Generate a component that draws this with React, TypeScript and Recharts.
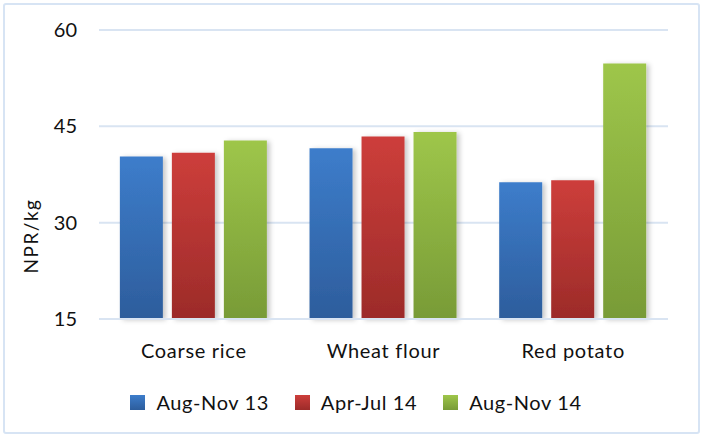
import React from "react";
import {
  BarChart,
  Bar,
  XAxis,
  YAxis,
  CartesianGrid,
} from "recharts";

const categories = ["Coarse rice", "Wheat flour", "Red potato"];
const augNov13 = [40.3, 41.6, 36.3];
const aprJul14 = [40.9, 43.4, 36.6];
const augNov14 = [42.8, 44.1, 54.8];
const yTicks = [15, 30, 45, 60];

const series = [
  { key: "augNov13", name: "Aug-Nov 13", top: "#3d7dcb", bottom: "#2d5d9c" },
  { key: "aprJul14", name: "Apr-Jul 14", top: "#cd3e3b", bottom: "#9c2b29" },
  { key: "augNov14", name: "Aug-Nov 14", top: "#9ec64a", bottom: "#789b37" },
];

const data = categories.map((c, i) => ({
  category: c,
  augNov13: augNov13[i],
  aprJul14: aprJul14[i],
  augNov14: augNov14[i],
}));

const font = "Lato, 'Open Sans', sans-serif";

function LegendContent() {
  return (
    <div
      style={{
        position: "absolute",
        left: 0,
        top: 390,
        width: 702,
        display: "flex",
        justifyContent: "center",
        gap: 26,
        fontFamily: font,
        fontSize: 20,
        color: "#111",
        paddingLeft: 10,
        boxSizing: "border-box",
      }}
    >
      {series.map((s) => (
        <div key={s.key} style={{ display: "flex", alignItems: "center" }}>
          <span
            style={{
              display: "inline-block",
              width: 15,
              height: 15,
              marginRight: 11,
              background: `linear-gradient(${s.top}, ${s.bottom})`,
            }}
          />
          <span style={{ letterSpacing: 0.6 }}>{s.name}</span>
        </div>
      ))}
    </div>
  );
}

export default function App() {
  return (
    <div
      style={{
        position: "absolute",
        left: 0,
        top: 0,
        width: 702,
        height: 436,
        background: "#fff",
      }}
    >
      <div
        style={{
          position: "absolute",
          left: 3,
          top: 3,
          width: 693,
          height: 427,
          border: "2px solid #d7e4f4",
          borderRadius: 3,
        }}
      />
      <BarChart
        width={702}
        height={436}
        data={data}
        margin={{ top: 30, right: 34, bottom: 87, left: 0 }}
        barCategoryGap="11%"
        barGap={9}
        style={{ position: "absolute", left: 0, top: 0 }}
      >
        <defs>
          {series.map((s) => (
            <linearGradient key={s.key} id={`g-${s.key}`} x1="0" y1="0" x2="0" y2="1">
              <stop offset="0%" stopColor={s.top} />
              <stop offset="100%" stopColor={s.bottom} />
            </linearGradient>
          ))}
          <filter id="shadow" x="-20%" y="-10%" width="150%" height="120%">
            <feDropShadow dx="3" dy="1" stdDeviation="2.5" floodColor="#000" floodOpacity="0.22" />
          </filter>
        </defs>
        <CartesianGrid vertical={false} stroke="#d9e4f2" strokeWidth={2} />
        <XAxis
          dataKey="category"
          height={30}
          axisLine={{ stroke: "#d9e4f2", strokeWidth: 2 }}
          tickLine={false}
          tickSize={0}
          tickMargin={25}
          tick={{ fill: "#111", fontSize: 20, fontFamily: font, letterSpacing: 0.7 }}
        />
        <YAxis
          width={99}
          domain={[15, 60]}
          ticks={yTicks}
          axisLine={false}
          tickLine={false}
          tickSize={0}
          tickMargin={22}
          tick={{ fill: "#111", fontSize: 20, fontFamily: font }}
          label={{
            content: () => (
              <text
                x={30}
                y={236}
                transform="rotate(-90, 30, 236)"
                textAnchor="middle"
                dominantBaseline="central"
                fill="#111"
                fontSize={19}
                fontFamily={font}
                letterSpacing={1.5}
              >
                NPR/kg
              </text>
            ),
          }}
        />
        {series.map((s) => (
          <Bar
            key={s.key}
            dataKey={s.key}
            name={s.name}
            fill={`url(#g-${s.key})`}
            filter="url(#shadow)"
            isAnimationActive={false}
          />
        ))}
      </BarChart>
      <LegendContent />
    </div>
  );
}
